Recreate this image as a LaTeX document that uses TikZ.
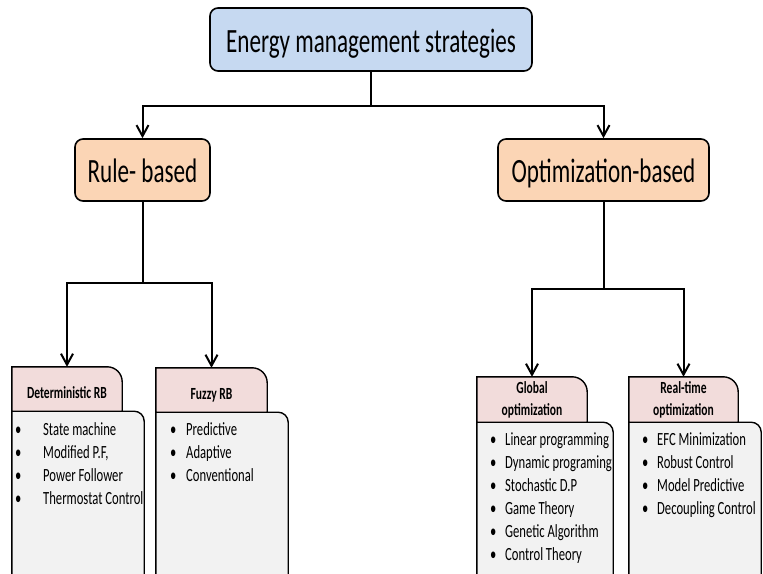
\documentclass[tikz,border=0pt]{standalone}
\usepackage{fontspec}
\setmainfont{Carlito}[FakeStretch=0.68]
\usetikzlibrary{arrows.meta,backgrounds}

\definecolor{topblue}{RGB}{198,217,241}
\definecolor{ruleorange}{RGB}{251,213,181}
\definecolor{hdrpink}{RGB}{242,220,219}
\definecolor{bodygray}{RGB}{242,242,242}

\begin{document}
\begin{tikzpicture}[x=1pt,y=-1pt,
    conn/.style={line width=2pt},
    connarrow/.style={line width=2pt,-{Straight Barb[length=11pt,width=12pt]}},
    bigbox/.style={draw,line width=1.6pt,rounded corners=8pt,inner sep=0pt,
        font=\fontsize{34}{40}\selectfont,text height=28pt,text depth=3pt,minimum height=62pt},
    hdr/.style={inner sep=0pt,minimum width=110pt,minimum height=44pt,align=center,
        font=\bfseries\fontsize{17}{22}\selectfont},
    tabshape/.style={draw,line width=1.4pt},
    item/.style={anchor=base west,inner sep=0pt,font=\fontsize{18.6}{23}\selectfont}]
    \useasboundingbox (0,0) rectangle (763,573);

    % top levels
    \node[bigbox,fill=topblue,minimum width=322pt,minimum height=63pt] (ems) at (371,39.5) {Energy management strategies};
    \node[bigbox,fill=ruleorange,minimum width=135pt] (rule) at (142.5,170) {Rule- based};
    \node[bigbox,fill=ruleorange,minimum width=211pt] (opt) at (603.5,170) {Optimization-based};

    % tab headers
    \node[hdr,text height=20pt,text depth=2pt] (det) at (67,389) {Deterministic RB};
    \node[hdr,text height=20pt,text depth=2pt,minimum width=111pt] (fuzzy) at (211.5,390) {Fuzzy RB};
    \node[hdr,minimum height=45pt] (glob) at (532,399.5) {Global\\optimization};
    \node[hdr,minimum height=45pt,minimum width=109pt] (rt) at (683.5,399.5) {Real-time\\optimization};

    \begin{scope}[on background layer]
        \fill[white] (0,0) rectangle (763,573);
        \clip (0,0) rectangle (763,573);
        \foreach \n/\w in {det/12,fuzzy/11,glob/16,rt/13} {
            \filldraw[tabshape,fill=bodygray] (\n.south east) -- ([xshift=\w]\n.south east)
                arc[start angle=90,end angle=0,radius=10pt] -- ++(0,200) -| (\n.south west) -- cycle;
            \filldraw[tabshape,fill=hdrpink] (\n.south west) -- (\n.north west) -- ([xshift=-15pt]\n.north east)
                arc[start angle=90,end angle=0,radius=15pt] -- (\n.south east) -- cycle;
        }
    \end{scope}

    % connectors
    \coordinate (emssplit) at (371,106);
    \coordinate (rulesplit) at (142.5,283);
    \coordinate (optsplit) at (603.5,289);
    \draw[conn] (ems) -- (emssplit);
    \draw[connarrow] (emssplit) -| (rule);
    \draw[connarrow] (emssplit) -| (opt);
    \draw[conn] (rule) -- (rulesplit);
    \draw[connarrow] (rulesplit) -| (det);
    \draw[connarrow] (rulesplit) -| (fuzzy);
    \draw[conn] (opt) -- (optsplit);
    \draw[connarrow] (optsplit) -| (glob);
    \draw[connarrow] (optsplit) -| (rt);

    % lists
    \foreach \t [count=\i] in {State machine,{Modified P.F,},Power Follower,Thermostat Control}
        \node[item] (det\i) at (15,412+23*\i) {\makebox[28pt][l]{•}\t};
    \foreach \t [count=\i] in {Predictive,Adaptive,Conventional}
        \node[item] (fuzzy\i) at (170,412+23*\i) {\makebox[16pt][l]{•}\t};
    \foreach \t [count=\i] in {Linear programming,Dynamic programing,Stochastic D.P,Game Theory,Genetic Algorithm,Control Theory}
        \node[item] (glob\i) at (490,422+23*\i) {\makebox[15pt][l]{•}\t};
    \foreach \t [count=\i] in {EFC Minimization,Robust Control,Model Predictive,Decoupling Control}
        \node[item] (rt\i) at (642,422+23*\i) {\makebox[15pt][l]{•}\t};
\end{tikzpicture}
\end{document}
